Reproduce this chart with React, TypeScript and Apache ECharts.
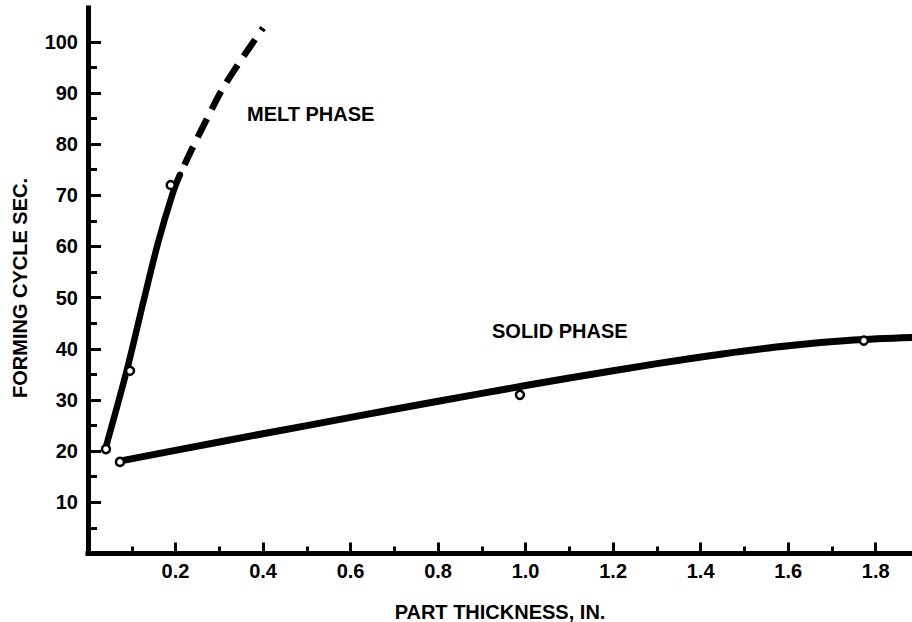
import React, { useEffect, useRef } from "react";
import * as echarts from "echarts";

// Melt phase: fitted solid curve, dashed extrapolation, measured points
const meltCurveX = [0.039, 0.089, 0.126, 0.16, 0.194, 0.21];
const meltCurveY = [20.2, 35.9, 49.0, 60.7, 70.5, 74.0];
const meltDashX = [0.21, 0.24, 0.274, 0.306, 0.347, 0.4];
const meltDashY = [74.0, 79.5, 85.3, 90.6, 96.1, 102.7];
const meltPointX = [0.041, 0.096, 0.189];
const meltPointY = [20.4, 35.7, 72.0];

// Solid phase: fitted curve and measured points
const solidCurveX = [0.075, 0.3, 0.5, 0.7, 0.9, 1.1, 1.3, 1.45, 1.6, 1.75, 1.883];
const solidCurveY = [18.1, 21.8, 25.0, 28.2, 31.3, 34.3, 37.1, 39.0, 40.6, 41.7, 42.2];
const solidPointX = [0.073, 0.987, 1.773];
const solidPointY = [17.9, 31.0, 41.6];

// Axis ticks
const xMajorTicks = [0.2, 0.4, 0.6, 0.8, 1.0, 1.2, 1.4, 1.6, 1.8];
const xMinorTicks = [0.1, 0.3, 0.5, 0.7, 0.9, 1.1, 1.3, 1.5, 1.7];
const yMajorTicks = [10, 20, 30, 40, 50, 60, 70, 80, 90, 100];
const yMinorTicks = [5, 15, 25, 35, 45, 55, 65, 75, 85, 95];

const X_MAX = 1.883;
const Y_MAX = 106.6;

const FONT = "Liberation Sans, Arial, Helvetica, sans-serif";

const zip = (xs: number[], ys: number[]) => xs.map((x, i) => [x, ys[i]]);

export default function App() {
  const ref = useRef<HTMLDivElement>(null);

  useEffect(() => {
    if (!ref.current) return;
    const chart = echarts.init(ref.current, null, { renderer: "svg" });

    const labelStyle = {
      color: "#000",
      fontFamily: FONT,
      fontWeight: "bold" as const,
      fontSize: 20,
    };

    const option: any = {
      animation: false,
      backgroundColor: "#fff",
      grid: {
        left: 88,
        right: 0,
        top: 8,
        bottom: 68.5,
        containLabel: false,
        outerBoundsMode: "none",
      },
      xAxis: [
        {
          type: "value",
          min: 0,
          max: X_MAX,
          interval: 0.2,
          position: "bottom",
          axisLine: { show: true, onZero: false, lineStyle: { color: "#000", width: 5, cap: "square" } },
          axisTick: {
            show: true,
            inside: true,
            length: 11,
            lineStyle: { color: "#000", width: 3 },
            customValues: xMajorTicks,
          },
          axisLabel: {
            ...labelStyle,
            margin: 7,
            customValues: xMajorTicks,
            formatter: (v: number) =>
              xMajorTicks.some((t) => Math.abs(t - v) < 1e-6) ? v.toFixed(1) : "",
          },
          splitLine: { show: false },
        },
        {
          type: "value",
          min: 0,
          max: X_MAX,
          interval: 0.1,
          position: "bottom",
          axisLine: { show: false, onZero: false },
          axisTick: {
            show: true,
            inside: true,
            length: 7,
            lineStyle: { color: "#000", width: 3 },
            customValues: xMinorTicks,
          },
          axisLabel: { show: false },
          splitLine: { show: false },
        },
      ],
      yAxis: [
        {
          type: "value",
          min: 0,
          max: Y_MAX,
          interval: 10,
          position: "left",
          axisLine: { show: true, onZero: false, lineStyle: { color: "#000", width: 5, cap: "square" } },
          axisTick: {
            show: true,
            inside: true,
            length: 13,
            lineStyle: { color: "#000", width: 3 },
            customValues: yMajorTicks,
          },
          axisLabel: {
            ...labelStyle,
            margin: 10,
            customValues: yMajorTicks,
            formatter: (v: number) =>
              yMajorTicks.some((t) => Math.abs(t - v) < 1e-6) ? String(Math.round(v)) : "",
          },
          splitLine: { show: false },
        },
        {
          type: "value",
          min: 0,
          max: Y_MAX,
          interval: 5,
          position: "left",
          axisLine: { show: false, onZero: false },
          axisTick: {
            show: true,
            inside: true,
            length: 9,
            lineStyle: { color: "#000", width: 3 },
            customValues: yMinorTicks,
          },
          axisLabel: { show: false },
          splitLine: { show: false },
        },
      ],
      series: [
        {
          name: "Melt phase",
          type: "line",
          data: zip(meltCurveX, meltCurveY),
          smooth: 0.3,
          showSymbol: false,
          symbol: "none",
          lineStyle: { color: "#000", width: 6.5, cap: "round" },
          z: 3,
        },
        {
          name: "Melt phase (extrapolated)",
          type: "line",
          data: zip(meltDashX, meltDashY),
          smooth: 0.3,
          showSymbol: false,
          symbol: "none",
          lineStyle: { color: "#000", width: 6.5, type: [20, 11], dashOffset: 20, cap: "butt" },
          z: 3,
        },
        {
          name: "Solid phase",
          type: "line",
          data: zip(solidCurveX, solidCurveY),
          smooth: 0.3,
          showSymbol: false,
          symbol: "none",
          lineStyle: { color: "#000", width: 7, cap: "round" },
          z: 3,
        },
        {
          name: "Melt phase data",
          type: "scatter",
          data: zip(meltPointX, meltPointY),
          symbol: "circle",
          symbolSize: 8,
          itemStyle: { color: "#fff", borderColor: "#000", borderWidth: 2.5, opacity: 1 },
          z: 5,
        },
        {
          name: "Solid phase data",
          type: "scatter",
          data: zip(solidPointX, solidPointY),
          symbol: "circle",
          symbolSize: 8,
          itemStyle: { color: "#fff", borderColor: "#000", borderWidth: 2.5, opacity: 1 },
          z: 5,
        },
      ],
      graphic: [
        {
          type: "text",
          left: 247,
          top: 104,
          style: { text: "MELT PHASE", fill: "#000", font: `bold 20px ${FONT}` },
        },
        {
          type: "text",
          left: 492,
          top: 321,
          style: { text: "SOLID PHASE", fill: "#000", font: `bold 20px ${FONT}` },
        },
        {
          type: "text",
          x: 500,
          y: 612,
          style: {
            text: "PART THICKNESS, IN.",
            fill: "#000",
            font: `bold 20px ${FONT}`,
            align: "center",
            verticalAlign: "middle",
          },
        },
        {
          type: "text",
          x: 20,
          y: 288,
          rotation: Math.PI / 2,
          style: {
            text: "FORMING CYCLE SEC.",
            fill: "#000",
            font: `bold 20px ${FONT}`,
            align: "center",
            verticalAlign: "middle",
          },
        },
      ],
    };

    chart.setOption(option);
    return () => chart.dispose();
  }, []);

  return (
    <div
      ref={ref}
      style={{ position: "fixed", left: 0, top: 0, width: 912, height: 622, background: "#fff" }}
    />
  );
}
